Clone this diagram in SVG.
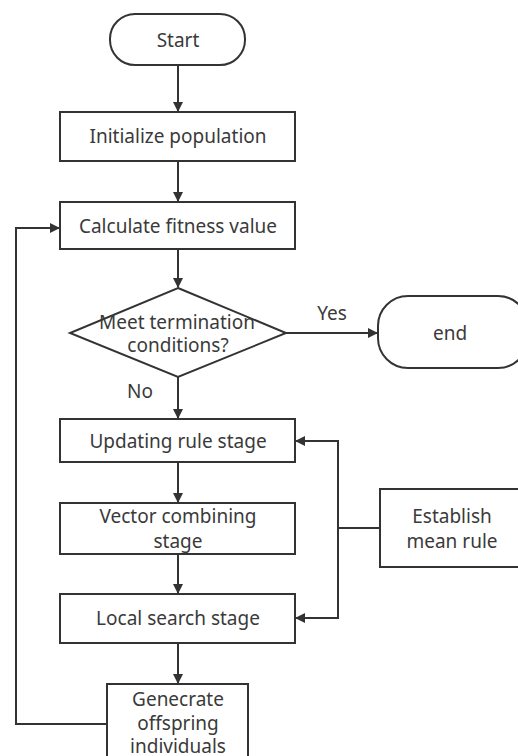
<svg xmlns="http://www.w3.org/2000/svg" width="518" height="756" viewBox="0 0 518 756">
<style>
.n{fill:#fff;stroke:#333;stroke-width:2}
.t{font-family:"Noto Sans","Open Sans",sans-serif;font-size:19px;fill:#3a3a3a;text-anchor:middle;dominant-baseline:central}
.c{fill:none;stroke:#333;stroke-width:2}
</style>
<defs>
<marker id="a" markerWidth="10" markerHeight="10" refX="9" refY="5" orient="auto" markerUnits="userSpaceOnUse">
<path d="M0,0 L10,5 L0,10 Z" fill="#333"/>
</marker>
</defs>
<rect width="518" height="756" fill="#fff"/>
<g id="connectors">
<line class="c" x1="178" y1="65" x2="178" y2="111" marker-end="url(#a)"/>
<line class="c" x1="178" y1="161" x2="178" y2="201" marker-end="url(#a)"/>
<line class="c" x1="178" y1="249" x2="178" y2="287" marker-end="url(#a)"/>
<line class="c" x1="286" y1="333" x2="377" y2="333" marker-end="url(#a)"/>
<line class="c" x1="178" y1="377" x2="178" y2="418" marker-end="url(#a)"/>
<line class="c" x1="178" y1="462" x2="178" y2="502" marker-end="url(#a)"/>
<line class="c" x1="178" y1="554" x2="178" y2="593" marker-end="url(#a)"/>
<line class="c" x1="178" y1="643" x2="178" y2="683" marker-end="url(#a)"/>
<polyline class="c" points="107,724 16,724 16,228 59,228" marker-end="url(#a)"/>
<line class="c" x1="380" y1="528" x2="338" y2="528"/>
<polyline class="c" points="338,528 338,441 296,441" marker-end="url(#a)"/>
<polyline class="c" points="338,528 338,618 296,618" marker-end="url(#a)"/>
<text class="t" x="332" y="313">Yes</text>
<text class="t" x="140" y="391">No</text>
</g>
<g id="start">
<rect class="n" x="110" y="14" width="135" height="51" rx="25"/>
<text class="t" x="178" y="40">Start</text>
</g>
<g id="init">
<rect class="n" x="60" y="112" width="235" height="49"/>
<text class="t" x="178" y="136">Initialize population</text>
</g>
<g id="fitness">
<rect class="n" x="60" y="202" width="235" height="47"/>
<text class="t" x="178" y="226">Calculate fitness value</text>
</g>
<g id="decision">
<polygon class="n" points="178,288 286,333 178,377 70,333"/>
<text class="t" x="177" y="322">Meet termination</text>
<text class="t" x="178" y="345">conditions?</text>
</g>
<g id="end">
<rect class="n" x="378" y="296" width="150" height="72" rx="30"/>
<text class="t" x="450" y="333">end</text>
</g>
<g id="update">
<rect class="n" x="60" y="419" width="235" height="43"/>
<text class="t" x="178" y="441">Updating rule stage</text>
</g>
<g id="vector">
<rect class="n" x="60" y="503" width="235" height="51"/>
<text class="t" x="178" y="516">Vector combining</text>
<text class="t" x="178" y="541">stage</text>
</g>
<g id="mean">
<rect class="n" x="380" y="489" width="150" height="78"/>
<text class="t" x="452" y="516">Establish</text>
<text class="t" x="452" y="541">mean rule</text>
</g>
<g id="local">
<rect class="n" x="60" y="594" width="235" height="49"/>
<text class="t" x="178" y="618">Local search stage</text>
</g>
<g id="offspring">
<rect class="n" x="107" y="684" width="141" height="80"/>
<text class="t" x="178" y="699">Genecrate</text>
<text class="t" x="178" y="723">offspring</text>
<text class="t" x="178" y="746">individuals</text>
</g>
</svg>
